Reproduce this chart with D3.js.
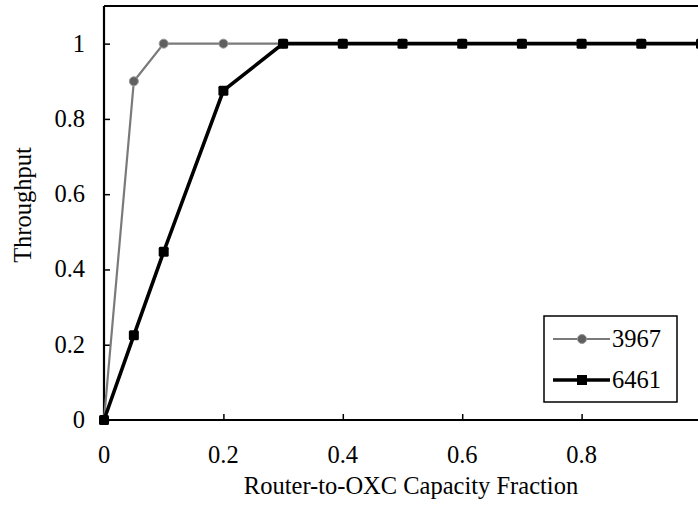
<!DOCTYPE html>
<html>
<head>
<meta charset="utf-8">
<script src="https://cdn.jsdelivr.net/npm/d3@7"></script>
<style>
  html, body { margin: 0; padding: 0; background: #fff; overflow: hidden; }
  svg { display: block; }
  svg text { font-family: "Liberation Serif", "Times New Roman", Times, "DejaVu Serif", serif; }
</style>
</head>
<body>
<svg id="chart" width="698" height="510"></svg>
<script>
// data
var xValues = [0, 0.05, 0.1, 0.2, 0.3, 0.4, 0.5, 0.6, 0.7, 0.8, 0.9, 1.0];
var series3967 = [0, 0.9, 1, 1, 1, 1, 1, 1, 1, 1, 1, 1];
var series6461 = [0, 0.225, 0.447, 0.875, 1, 1, 1, 1, 1, 1, 1, 1];
var seriesNames = ["3967", "6461"];
var xTicks = [0, 0.2, 0.4, 0.6, 0.8];
var yTicks = [0, 0.2, 0.4, 0.6, 0.8, 1];

var svg = d3.select("#chart");
var plotL = 104, plotR = 701, plotT = 6, plotB = 420;
var fs = 24.5;
var serif = "'Liberation Serif', 'Times New Roman', Times, 'DejaVu Serif', serif";

var x = d3.scaleLinear().domain([0, 1]).range([plotL, plotR]);
var y = d3.scaleLinear().domain([0, 1.1]).range([plotB, plotT]);

// frame: top border line
svg.append("line")
    .attr("x1", plotL).attr("x2", plotR)
    .attr("y1", plotT).attr("y2", plotT)
    .attr("stroke", "#000").attr("stroke-width", 2);

// axes with inward ticks
var xAxis = svg.append("g")
    .attr("transform", "translate(0," + plotB + ")")
    .call(d3.axisTop(x).tickValues(xTicks).tickSize(6).tickFormat(""));
var yAxis = svg.append("g")
    .attr("transform", "translate(" + plotL + ",0)")
    .call(d3.axisRight(y).tickValues(yTicks).tickSize(6).tickFormat(""));
[xAxis, yAxis].forEach(function (g) {
    g.select(".domain").attr("stroke", "#000").attr("stroke-width", 2.2);
    g.selectAll(".tick line").attr("stroke", "#000").attr("stroke-width", 1.5);
});
xAxis.select(".domain").attr("d", "M" + plotL + ",0H" + plotR);
yAxis.select(".domain").attr("d", "M0," + plotB + "V" + plotT);

// tick labels
svg.append("g").selectAll("text")
    .data(xTicks).join("text")
    .attr("x", d => x(d)).attr("y", 463)
    .attr("text-anchor", "middle")
    .attr("font-family", serif)
    .attr("font-size", fs)
    .text(d => d3.format("")(d));
svg.append("g").selectAll("text")
    .data(yTicks).join("text")
    .attr("x", 85).attr("y", d => y(d) + 8)
    .attr("text-anchor", "end")
    .attr("font-family", serif)
    .attr("font-size", fs)
    .text(d => d3.format("")(d));

// axis titles
svg.append("text")
    .attr("x", 411).attr("y", 494)
    .attr("text-anchor", "middle")
    .attr("font-family", serif)
    .attr("font-size", fs)
    .text("Router-to-OXC Capacity Fraction");
svg.append("text")
    .attr("transform", "translate(31,205) rotate(-90)")
    .attr("text-anchor", "middle")
    .attr("font-family", serif)
    .attr("font-size", fs)
    .text("Throughput");

var line = d3.line().x(d => x(d[0])).y(d => y(d[1]));
var pts3967 = xValues.map((v, i) => [v, series3967[i]]);
var pts6461 = xValues.map((v, i) => [v, series6461[i]]);

// 3967: thin grey line, round-ish markers
svg.append("path").datum(pts3967)
    .attr("d", line).attr("fill", "none")
    .attr("stroke", "#7a7a7a").attr("stroke-width", 2.2);
svg.append("g").selectAll("circle")
    .data(pts3967).join("circle")
    .attr("cx", d => x(d[0])).attr("cy", d => y(d[1])).attr("r", 4.5)
    .attr("fill", "#5f5f5f").attr("stroke", "#999").attr("stroke-width", 1);

// 6461: thick black line, square markers
svg.append("path").datum(pts6461)
    .attr("d", line).attr("fill", "none")
    .attr("stroke", "#000").attr("stroke-width", 3.6);
svg.append("g").selectAll("rect")
    .data(pts6461).join("rect")
    .attr("x", d => x(d[0]) - 5).attr("y", d => y(d[1]) - 5)
    .attr("width", 10).attr("height", 10).attr("rx", 1.5)
    .attr("fill", "#000");

// legend
var lg = svg.append("g");
lg.append("rect")
    .attr("x", 544).attr("y", 316).attr("width", 133).attr("height", 86)
    .attr("fill", "#fff").attr("stroke", "#000").attr("stroke-width", 1.5);
var rows = [
    { name: seriesNames[0], yy: 339, color: "#7a7a7a", w: 2.2 },
    { name: seriesNames[1], yy: 380, color: "#000", w: 3.6 }
];
rows.forEach(function (r, i) {
    lg.append("line")
        .attr("x1", 553).attr("x2", 610).attr("y1", r.yy).attr("y2", r.yy)
        .attr("stroke", r.color).attr("stroke-width", r.w);
    if (i === 0) {
        lg.append("circle")
            .attr("cx", 582).attr("cy", r.yy).attr("r", 4.5)
            .attr("fill", "#5f5f5f").attr("stroke", "#999");
    } else {
        lg.append("rect")
            .attr("x", 577).attr("y", r.yy - 5).attr("width", 10).attr("height", 10)
            .attr("fill", "#000");
    }
    lg.append("text")
        .attr("x", 612).attr("y", r.yy + 8)
        .attr("font-family", serif)
        .attr("font-size", fs)
        .text(r.name);
});
</script>
</body>
</html>
